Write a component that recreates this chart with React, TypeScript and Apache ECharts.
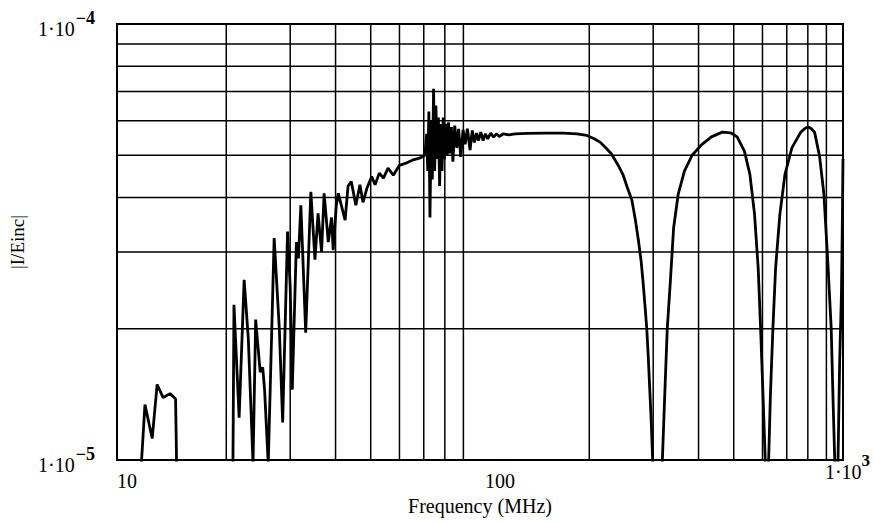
import React, { useEffect, useRef } from "react";
import * as echarts from "echarts";

// Curve samples: [frequency in MHz, |I/Einc| in units of 1e-5]
const lowBand: [number, number][] = [
  [10, 0.5], [11.5, 0.8], [11.94, 1.34], [12.5, 1.12], [12.9, 1.49], [13.4, 1.39],
  [14.0, 1.42], [14.5, 1.38], [14.62, 0.9], [16, 0.5], [20, 0.5],
];
const resonanceBand: [number, number][] = [
  [20.85, 0.9], [21.0, 2.27], [21.7, 1.25], [22.4, 2.59], [23.0, 1.9], [23.7, 0.98],
  [24.1, 2.1], [24.8, 1.59], [25.2, 1.63], [25.5, 1.45], [26.1, 0.98], [27.1, 3.23],
  [28.0, 2.0], [28.6, 1.22], [29.5, 3.34], [30.0, 2.5], [30.4, 1.45], [31.2, 3.16],
  [31.6, 2.9], [32.1, 3.84], [33.1, 1.96], [34.2, 4.12], [35.1, 2.88], [35.8, 3.68],
  [36.6, 3.0], [37.2, 4.09], [38.2, 3.16], [39.0, 3.6], [39.4, 3.03], [40.2, 3.84],
  [40.7, 4.09], [42.5, 3.55], [43.3, 4.25], [44.2, 4.35], [45.5, 3.84], [46.7, 4.28],
  [47.6, 3.9], [48.8, 4.2], [50.3, 4.47], [51.4, 4.28], [52.8, 4.55], [54.2, 4.43],
  [55.8, 4.67], [57.7, 4.5], [60, 4.74], [62.7, 4.8], [65.5, 4.88], [68.4, 4.93],
  [70.5, 5.0], [71.3, 5.6], [71.8, 4.6], [72.3, 6.3], [72.8, 3.6], [73.4, 6.0],
  [73.9, 4.4], [74.5, 7.1], [75.0, 4.6], [75.6, 6.5], [76.2, 4.9], [76.8, 6.1],
  [77.4, 4.25], [78.0, 5.9], [78.6, 4.6], [79.2, 6.1], [79.8, 4.9], [80.5, 5.9],
  [81.2, 5.0], [81.9, 5.95], [82.6, 5.05], [83.4, 5.8], [84.2, 4.83], [85.2, 5.85],
  [86.3, 5.2], [87.3, 5.75], [88.5, 4.96], [89.8, 5.72], [91.0, 5.3], [92.3, 5.75],
  [93.9, 5.14], [95.2, 5.7], [96.5, 5.35], [97.8, 5.62], [99, 5.4],
];
const plateauBand: [number, number][] = [
  [100.5, 5.65], [102, 5.4], [103.5, 5.6], [105, 5.45], [107, 5.62], [109, 5.5],
  [111, 5.6], [113, 5.52], [116, 5.6], [120, 5.57], [125, 5.6], [135, 5.61],
  [150, 5.62], [170, 5.62], [185, 5.6], [197, 5.55], [207, 5.45], [214, 5.36],
  [222, 5.2], [230, 5.04], [240, 4.75], [248, 4.5], [255, 4.2], [262, 3.95],
  [268, 3.55], [273, 3.2], [278, 2.85], [282, 2.5], [285.5, 2.2], [288, 2.0],
  [290.5, 1.75], [293, 1.5], [296, 1.25], [299, 1.0], [305, 0.7],
];
const nullsBand: [number, number][] = [
  [315, 0.8], [318, 1.0], [322.8, 1.41], [328, 2.0], [334.5, 2.57], [341.5, 3.41],
  [351.6, 4.07], [365.7, 4.6], [384, 5.0], [408, 5.29], [434, 5.51], [465, 5.65],
  [490, 5.63], [511, 5.51], [535, 5.11], [554, 4.52], [570.6, 3.66], [584, 2.75],
  [593, 2.0], [602, 1.41], [610.6, 1.0], [617, 0.7], [624, 1.0], [631, 1.41],
  [641, 2.0], [652, 2.75], [670, 3.66], [692, 4.52], [723, 5.2], [765, 5.65],
  [790, 5.78], [804, 5.8], [818, 5.75], [835, 5.65], [862, 4.97], [886, 4.07],
  [908, 2.85], [928, 2.0], [938, 1.41], [949, 1.0], [959, 0.7], [969, 1.0],
  [979, 1.68], [990, 2.39], [995, 3.3], [1000, 4.9],
];
const valueUnit = 1e-5;

// Axis ranges
const xRange = [10, 1000];
const yRangeE5 = [1, 10];

// Grid lines
const xMinorGrid = [20, 30, 40, 50, 60, 70, 80, 90, 200, 300, 400, 500, 600, 700, 800, 900];
const yMinorGridE5 = [2, 3, 4, 5, 6, 7, 8, 9];

// Tick labels
const xTickValues = [10, 100, 1000];
const xTickBases = ["10", "100", "1·10"];
const xTickExps = ["", "", "3"];
const yTickValues = [1e-5, 1e-4];
const yTickBases = ["1·10", "1·10"];
const yTickExps = ["−5", "−4"];

const xAxisTitle = "Frequency (MHz)";
const yAxisTitle = "|I/Einc|";

const FONT = "'Liberation Serif', 'Times New Roman', serif";

export default function App() {
  const ref = useRef<HTMLDivElement>(null);

  useEffect(() => {
    document.body.style.margin = "0";
    if (!ref.current) return;
    const chart = echarts.init(ref.current, undefined, { renderer: "svg" });

    const curve = [...lowBand, ...resonanceBand, ...plateauBand, ...nullsBand].map(
      ([f, v]) => [f, v * valueUnit]
    );

    const findIdx = (arr: number[], v: number) => {
      const lv = Math.log10(v);
      let best = 0;
      let bd = Infinity;
      arr.forEach((t, i) => {
        const d = Math.abs(Math.log10(t) - lv);
        if (d < bd) { bd = d; best = i; }
      });
      return best;
    };

    const gridSeries = (data: number[][]) => ({
      type: "line",
      z: 1,
      data,
      showSymbol: false,
      silent: true,
      clip: false,
      lineStyle: { color: "#000", width: 1.5 },
    });

    const yMin = yRangeE5[0] * valueUnit;
    const yMax = yRangeE5[1] * valueUnit;

    chart.setOption({
      animation: false,
      grid: {
        left: 117, right: 31, top: 24, bottom: 63,
        show: true, borderColor: "#000", borderWidth: 2,
        backgroundColor: "transparent",
      },
      xAxis: {
        type: "log", logBase: 10, min: xRange[0], max: xRange[1],
        axisLine: { show: false }, axisTick: { show: false }, splitLine: { show: false },
        axisLabel: {
          showMinLabel: true, showMaxLabel: true,
          margin: -8, color: "#000", fontFamily: FONT, fontSize: 20,
          formatter: (v: number) => {
            const i = findIdx(xTickValues, v);
            if (!xTickExps[i]) return `{x${i}|${xTickBases[i]}}`;
            return `{xb|${xTickBases[i]}}{xs|${xTickExps[i]}}`;
          },
          rich: {
            x0: { fontFamily: FONT, fontSize: 20, color: "#000", padding: [19, 0, 0, 20] },
            x1: { fontFamily: FONT, fontSize: 20, color: "#000", padding: [19, 0, 0, 40] },
            xb: { fontFamily: FONT, fontSize: 20, color: "#000", padding: [10, 0, 0, 9], verticalAlign: "bottom" },
            xs: { fontFamily: FONT, fontSize: 17, color: "#000", fontWeight: "bold", verticalAlign: "top" },
          },
        },
        name: xAxisTitle, nameLocation: "middle", nameGap: 35,
        nameTextStyle: { fontFamily: FONT, fontSize: 20, color: "#000" },
      },
      yAxis: {
        type: "log", logBase: 10, min: yMin, max: yMax,
        axisLine: { show: false }, axisTick: { show: false }, splitLine: { show: false },
        axisLabel: {
          showMinLabel: true, showMaxLabel: true,
          margin: 22, color: "#000", fontFamily: FONT, fontSize: 20,
          formatter: (v: number) => {
            const i = findIdx(yTickValues, v);
            return `{yb|${yTickBases[i]}}{ys|${yTickExps[i]}}`;
          },
          rich: {
            yb: { fontFamily: FONT, fontSize: 20, color: "#000", padding: [10, 1, 0, 0], verticalAlign: "bottom" },
            ys: { fontFamily: FONT, fontSize: 18, color: "#000", fontWeight: "bold", verticalAlign: "top" },
          },
        },
        name: yAxisTitle, nameLocation: "middle", nameGap: 78, nameRotate: 90,
        nameTextStyle: { fontFamily: FONT, fontSize: 19, color: "#000" },
      },
      series: [
        ...xMinorGrid.map((x) => gridSeries([[x, yMin], [x, yMax]])),
        ...yMinorGridE5.map((y) => gridSeries([[xRange[0], y * valueUnit], [xRange[1], y * valueUnit]])),
        {
          type: "line",
          z: 3,
          data: curve,
          showSymbol: false,
          clip: true,
          silent: true,
          lineStyle: { color: "#000", width: 2.8 },
        },
      ],
    });

    return () => chart.dispose();
  }, []);

  return <div ref={ref} style={{ width: 874, height: 523 }} />;
}
